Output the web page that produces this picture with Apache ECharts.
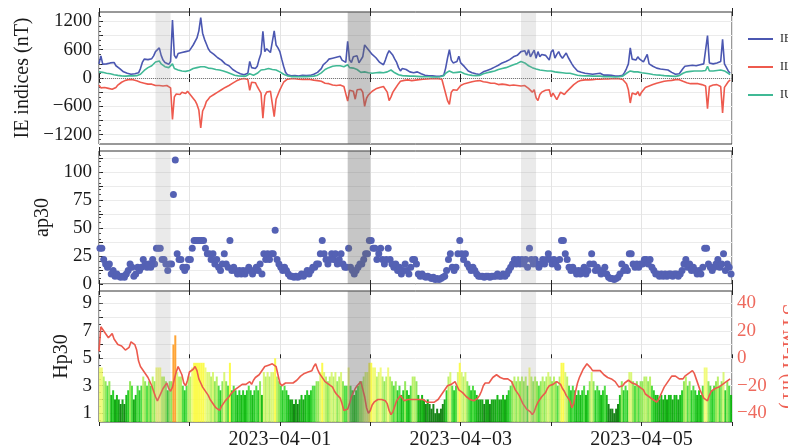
<!DOCTYPE html>
<html>
<head>
<meta charset="utf-8">
<script src="https://cdn.jsdelivr.net/npm/echarts@6/dist/echarts.min.js"></script>
<style>
  html, body { margin: 0; padding: 0; background: #ffffff; }
  #chart { width: 788px; height: 448px; }
</style>
</head>
<body>
<div id="chart"></div>
<script>
// Geomagnetic activity, 2023-03-30 00:00 UT to 2023-04-06 00:00 UT, 30-minute samples.
const START_UTC = Date.UTC(2023, 2, 30);
const STEP_HOURS = 0.5;
const SPAN_HOURS = 168;

// IMAGE electrojet indices (nT)
const ieIndex = [
  300,470,290,280,300,290,320,340,330,260,230,200,160,130,110,100,90,80,100,90,80,110,200,330,
  400,420,390,430,410,470,560,600,640,480,380,330,300,290,350,1230,480,420,520,500,540,520,560,550,
  580,640,700,720,850,1000,1280,950,820,720,620,560,520,500,470,430,450,380,350,300,280,260,220,180,
  150,130,100,90,80,70,90,100,350,220,180,200,250,400,520,990,560,620,600,540,500,1000,700,640,
  560,400,250,120,70,50,45,40,50,45,40,50,55,45,50,60,55,70,80,100,120,110,200,280,
  320,350,400,440,420,380,440,480,460,380,340,330,780,380,330,450,480,470,320,300,450,700,660,600,
  560,500,480,430,400,330,300,280,380,500,580,620,480,400,330,220,150,200,220,180,150,130,120,110,
  120,130,110,90,70,60,50,45,40,45,40,35,40,35,45,60,210,420,600,380,320,300,350,460,
  320,280,240,200,150,120,110,100,90,80,75,90,130,150,160,170,190,220,230,250,270,290,320,330,
  350,370,390,420,450,470,480,500,560,520,580,480,600,450,520,590,420,560,450,500,520,480,510,380,
  550,600,420,500,560,470,420,460,530,440,420,300,240,200,150,130,120,110,100,120,90,110,80,100,
  90,70,100,80,60,70,60,50,55,45,40,50,40,45,60,120,200,300,640,400,420,380,450,400,
  360,340,380,500,300,280,250,230,210,200,190,200,180,190,170,150,120,100,80,70,90,120,200,250,
  280,260,300,270,280,260,270,280,290,300,320,900,320,280,300,290,320,340,350,820,300,280,150,100
];
const ilIndex = [
  -150,-210,-180,-200,-190,-220,-250,-240,-270,-200,-150,-120,-90,-70,-50,-40,-30,-20,-35,-40,-60,-80,-90,-100,
  -110,-120,-130,-140,-130,-150,-160,-170,-160,-150,-170,-180,-160,-200,-210,-880,-400,-340,-330,-350,-300,-290,-330,-280,
  -320,-380,-420,-480,-560,-680,-1060,-700,-620,-500,-450,-400,-360,-350,-320,-300,-280,-250,-230,-200,-180,-160,-140,-110,
  -90,-60,-40,-25,-15,-10,-20,-30,-260,-90,-80,-100,-180,-250,-320,-850,-380,-300,-330,-280,-300,-820,-450,-350,
  -250,-170,-90,-50,-25,-20,-15,-20,-15,-20,-25,-20,-30,-25,-30,-35,-30,-40,-45,-50,-55,-50,-70,-90,
  -110,-130,-120,-140,-150,-130,-160,-170,-150,-160,-180,-170,-490,-260,-220,-280,-450,-250,-220,-240,-300,-600,-430,-360,
  -320,-280,-250,-230,-210,-200,-190,-180,-220,-300,-480,-400,-300,-240,-200,-120,-70,-60,-50,-45,-40,-50,-55,-50,
  -45,-40,-35,-30,-25,-20,-20,-15,-15,-10,-15,-10,-15,-20,-25,-40,-330,-480,-560,-300,-250,-210,-260,-220,
  -160,-140,-120,-110,-100,-90,-80,-70,-65,-60,-55,-70,-80,-85,-90,-100,-110,-120,-110,-130,-140,-120,-130,-150,
  -140,-150,-160,-140,-150,-170,-160,-150,-170,-180,-160,-200,-220,-260,-300,-250,-420,-480,-350,-300,-280,-260,-300,-250,
  -400,-320,-280,-460,-420,-300,-280,-350,-300,-260,-220,-180,-140,-110,-80,-60,-50,-45,-40,-35,-40,-30,-35,-30,
  -25,-30,-25,-20,-20,-15,-20,-15,-15,-20,-15,-10,-15,-20,-30,-60,-120,-250,-530,-320,-300,-350,-290,-380,
  -300,-260,-200,-230,-170,-150,-140,-120,-110,-100,-90,-80,-70,-75,-60,-55,-50,-40,-35,-30,-35,-40,-70,-90,
  -100,-110,-120,-110,-120,-130,-120,-130,-140,-150,-170,-650,-180,-140,-150,-130,-140,-160,-180,-740,-200,-160,-80,-40
];
const iuIndex = [
  130,150,120,110,100,95,90,85,70,60,55,50,45,45,40,40,45,40,45,50,50,60,80,110,
  160,200,220,240,260,300,340,370,360,300,260,240,230,220,230,300,200,180,170,160,150,140,140,150,
  160,180,200,210,220,230,240,250,240,220,210,200,200,190,180,180,170,160,150,140,120,100,90,70,
  60,50,45,40,40,35,40,45,90,70,60,80,100,140,170,200,180,190,200,190,180,200,170,150,
  130,110,80,60,45,35,30,25,30,25,25,30,30,25,30,30,35,35,40,50,60,70,110,150,
  180,200,220,240,250,250,260,270,260,250,240,230,280,220,200,210,200,180,140,120,110,130,120,110,
  100,100,110,110,120,120,110,110,120,130,170,170,130,110,90,70,50,50,45,45,40,40,45,40,
  40,35,35,30,30,25,25,25,20,20,20,20,20,25,30,50,100,140,150,120,110,100,120,140,
  130,110,90,80,70,60,55,50,50,50,55,70,90,100,110,120,130,140,150,170,180,190,200,210,
  220,240,250,270,280,300,310,330,350,340,320,290,260,240,220,200,190,180,170,160,160,150,150,140,
  150,140,130,130,120,120,110,110,100,100,100,90,80,70,60,55,50,50,45,50,45,40,40,40,
  40,35,40,35,30,30,30,25,25,25,20,20,25,25,40,70,100,120,150,130,130,120,130,120,
  110,100,100,110,90,80,75,70,65,60,60,55,50,50,45,45,40,35,35,40,50,70,100,120,
  130,140,140,150,150,140,150,150,150,160,160,250,150,140,150,150,160,170,170,200,150,130,100,70
];

// ap30 index
const ap30 = [
  32,32,22,18,15,18,9,12,7,9,7,6,7,6,9,12,18,15,7,9,15,12,15,22,
  18,15,18,15,22,18,32,32,32,22,22,18,12,18,18,80,111,27,22,22,15,12,15,22,
  22,32,39,39,39,39,39,39,32,27,27,22,27,18,22,15,12,18,27,18,15,39,12,15,
  12,9,12,9,12,9,12,15,12,9,12,15,12,18,9,27,22,27,22,27,27,48,22,18,
  15,12,15,12,9,7,7,6,7,6,7,9,7,9,12,9,12,15,15,18,18,27,39,27,
  22,18,22,27,22,27,18,22,27,18,15,15,32,15,12,9,12,15,18,18,22,27,27,39,
  39,32,32,22,27,32,22,18,22,32,22,18,15,18,12,15,9,12,18,12,9,15,22,22,
  18,9,7,9,7,6,7,6,5,6,4,5,4,5,6,7,12,22,27,15,12,15,27,39,
  27,22,27,18,15,12,15,12,9,7,7,7,6,7,7,6,7,7,7,9,7,7,9,7,
  9,12,15,18,22,18,22,18,22,18,22,15,32,22,18,22,18,15,18,22,18,22,27,22,
  18,22,18,15,22,39,39,27,22,15,12,15,12,9,12,9,12,15,9,12,18,27,18,12,
  15,12,9,12,15,9,6,5,5,4,5,6,9,18,12,15,12,27,27,18,15,18,15,18,
  18,22,22,18,22,15,12,9,9,7,9,7,9,7,9,9,7,9,9,7,9,12,18,22,
  15,18,12,15,12,9,12,9,15,32,32,18,15,12,15,18,22,15,18,27,12,18,15,9
];

// Hp30 index
const hp30 = [
  4.33,4.33,3.67,3.33,3,3.33,2.33,2.67,2,2.33,2,1.67,2,1.67,2.33,2.67,3.33,3,2,2.33,3,2.67,3,3.67,
  3.33,3,3.33,3,3.67,3.33,4.33,4.33,4.33,3.67,3.67,3.33,2.67,3.33,3.33,6,6.67,4,3.67,3.67,3,2.67,3,3.67,
  3.67,4.33,4.67,4.67,4.67,4.67,4.67,4.67,4.33,4,4,3.67,4,3.33,3.67,3,2.67,3.33,4,3.33,3,4.67,2.67,3,
  2.67,2.33,2.67,2.33,2.67,2.33,2.67,3,2.67,2.33,2.67,3,2.67,3.33,2.33,4,3.67,4,3.67,4,4,5,3.67,3.33,
  3,2.67,3,2.67,2.33,2,2,1.67,2,1.67,2,2.33,2,2.33,2.67,2.33,2.67,3,3,3.33,3.33,4,4.67,4,
  3.67,3.33,3.67,4,3.67,4,3.33,3.67,4,3.33,3,3,4.33,3,2.67,2.33,2.67,3,3.33,3.33,3.67,4,4,4.67,
  4.67,4.33,4.33,3.67,4,4.33,3.67,3.33,3.67,4.33,3.67,3.33,3,3.33,2.67,3,2.33,2.67,3.33,2.67,2.33,3,3.67,3.67,
  3.33,2.33,2,2.33,2,1.67,2,1.67,1.33,1.67,1,1.33,1,1.33,1.67,2,2.67,3.67,4,3,2.67,3,4,4.67,
  4,3.67,4,3.33,3,2.67,3,2.67,2.33,2,2,2,1.67,2,2,1.67,2,2,2,2.33,2,2,2.33,2,
  2.33,2.67,3,3.33,3.67,3.33,3.67,3.33,3.67,3.33,3.67,3,4.33,3.67,3.33,3.67,3.33,3,3.33,3.67,3.33,3.67,4,3.67,
  3.33,3.67,3.33,3,3.67,4.67,4.67,4,3.67,3,2.67,3,2.67,2.33,2.67,2.33,2.67,3,2.33,2.67,3.33,4,3.33,2.67,
  3,2.67,2.33,2.67,3,2.33,1.67,1.33,1.33,1,1.33,1.67,2.33,3.33,2.67,3,2.67,4,4,3.33,3,3.33,3,3.33,
  3.33,3.67,3.67,3.33,3.67,3,2.67,2.33,2.33,2,2.33,2,2.33,2,2.33,2.33,2,2.33,2.33,2,2.33,2.67,3.33,3.67,
  3,3.33,2.67,3,2.67,2.33,2.67,2.33,3,4.33,4.33,3.33,3,2.67,3,3.33,3.67,3,3.33,4,2.67,3.33,3,2.33
];

// SYM-H index (nT)
const symH = [
  5,23,21,19,17,15,16,18,14,12,10,11,9,8,6,5,8,12,11,10,6,-2,-6,-8,
  -10,-12,-14,-17,-20,-24,-28,-31,-30,-25,-22,-20,-18,-22,-24,-21,-15,-10,-6,-7,-12,-18,-20,-16,
  -10,-9,-8,-6,-9,-15,-18,-21,-23,-25,-27,-30,-32,-34,-36,-37,-38,-35,-33,-31,-30,-28,-26,-25,
  -23,-22,-21,-20,-19,-18,-19,-18,-17,-19,-16,-14,-13,-12,-10,-9,-6,-5,-5,-6,-4,-3,-6,-12,
  -18,-20,-19,-18,-19,-18,-17,-18,-17,-16,-15,-13,-12,-11,-12,-10,-11,-9,-6,-4,-8,-11,-13,-15,
  -17,-18,-19,-20,-21,-24,-26,-27,-29,-33,-38,-39,-37,-33,-28,-25,-22,-20,-19,-17,-18,-28,-36,-40,
  -38,-34,-32,-31,-30,-31,-30,-29,-31,-33,-38,-41,-39,-35,-31,-29,-27,-29,-31,-32,-30,-29,-30,-31,
  -30,-29,-30,-31,-30,-31,-32,-31,-32,-33,-32,-31,-30,-28,-26,-24,-22,-20,-21,-19,-18,-17,-20,-23,
  -24,-25,-26,-28,-29,-30,-30,-31,-30,-29,-27,-24,-20,-18,-17,-18,-16,-14,-13,-12,-13,-14,-13,-15,
  -14,-15,-14,-17,-20,-23,-25,-27,-30,-33,-35,-37,-38,-39,-41,-39,-35,-32,-30,-28,-27,-25,-22,-20,
  -20,-19,-18,-17,-18,-19,-22,-24,-27,-29,-31,-36,-33,-24,-18,-14,-11,-8,-6,-4,-3,-7,-9,-10,
  -9,-10,-9,-10,-12,-13,-14,-13,-15,-16,-17,-19,-21,-22,-20,-18,-17,-16,-17,-18,-17,-19,-20,-21,
  -22,-23,-26,-27,-28,-29,-30,-31,-32,-30,-27,-24,-21,-19,-17,-15,-13,-12,-13,-14,-15,-16,-15,-13,
  -12,-11,-10,-9,-11,-15,-19,-23,-26,-29,-30,-31,-27,-24,-23,-22,-22,-21,-20,-19,-18,-17,-16,-15
];

// Highlighted intervals, hours from the start: [from, to, shade]
const shadedSpans = [[15, 19, 'light'], [66, 72, 'dark'], [112, 116, 'light']];

// Tick labels
const ieTicks = [-1200, -600, 0, 600, 1200];
const apTicks = [0, 25, 50, 75, 100];
const hpTicks = [1, 3, 5, 7, 9];
const symTicks = [-40, -20, 0, 20, 40];

const SERIF = '"Liberation Serif", "Times New Roman", serif';
const INK = '#1a1a1a';
const MINUS = '\u2212';
const fmtMinus = v => String(v).replace('-', MINUS);

const hourOf = i => i * STEP_HOURS;
const toPairs = arr => arr.map((v, i) => [hourOf(i), v]);
const range = (a, b, step) => { const out = []; for (let v = a; v <= b + 1e-9; v += step) out.push(+v.toFixed(4)); return out; };

function dateLabel(h) {
  if (h <= 0 || h >= SPAN_HOURS || h % 48 !== 0) return '';
  const d = new Date(START_UTC + h * 3600000);
  const mm = String(d.getUTCMonth() + 1).padStart(2, '0');
  const dd = String(d.getUTCDate()).padStart(2, '0');
  return d.getUTCFullYear() + MINUS + mm + MINUS + dd;
}

// Colour scale for Hp30 bars
function hpColor(v) {
  if (v >= 5.67) return '#ff9a1f';
  if (v >= 4.5) return '#fbfb3c';
  if (v >= 4.17) return '#f0fb6e';
  if (v >= 3.83) return '#d6f66c';
  if (v >= 3.5) return '#b4ef5c';
  if (v >= 3.17) return '#86e64a';
  if (v >= 2.83) return '#3fd933';
  if (v >= 2.5) return '#14c814';
  if (v >= 2.17) return '#00b400';
  if (v >= 1.83) return '#009c00';
  return '#007800';
}

const grids = [
  { left: 99, right: 56, top: 12, height: 132 },
  { left: 99, right: 56, top: 151, height: 133 },
  { left: 99, right: 56, top: 291, height: 131 }
].map(g => Object.assign(g, {
  show: true, borderColor: '#333', borderWidth: 1, containLabel: false, outerBoundsMode: 'none'
}));

function xAxisFor(gridIndex, position, inside, opts) {
  opts = opts || {};
  return {
    type: 'value', gridIndex, position, min: 0, max: SPAN_HOURS, interval: 24,
    axisLine: { show: false },
    axisTick: { show: true, inside, length: 4, lineStyle: { color: '#222', width: 1 } },
    axisLabel: opts.labels ? {
      show: true, margin: 8, fontFamily: SERIF, fontSize: 20, color: INK,
      formatter: dateLabel, showMinLabel: true, showMaxLabel: true
    } : { show: false },
    splitLine: opts.split ? { show: true, lineStyle: { color: '#e4e4e4', width: 1 } } : { show: false }
  };
}

const xAxes = [];
for (let g = 0; g < 3; g++) {
  xAxes.push(xAxisFor(g, 'bottom', true, { split: true, labels: false }));
  xAxes.push(xAxisFor(g, 'bottom', false, { labels: g === 2 }));
  xAxes.push(xAxisFor(g, 'top', true));
  xAxes.push(xAxisFor(g, 'top', false));
}

const nameStyle = { fontFamily: SERIF, fontSize: 20, color: INK };
const tickLabel = { fontFamily: SERIF, fontSize: 19, color: INK, margin: 7 };
const gridLine = { show: true, lineStyle: { color: '#ebebeb', width: 1 } };

function minorAxis(gridIndex, min, max, values) {
  return {
    type: 'value', gridIndex, position: 'left', min, max,
    axisLine: { show: false }, axisLabel: { show: false }, splitLine: { show: false },
    axisTick: { show: true, inside: true, length: 2, customValues: values, lineStyle: { color: '#444' } }
  };
}

const yAxes = [
  { // 0: IE indices
    type: 'value', gridIndex: 0, position: 'left', min: -1400, max: 1400,
    name: 'IE indices (nT)', nameLocation: 'middle', nameGap: 66, nameTextStyle: nameStyle,
    axisLine: { show: false },
    axisTick: { show: true, inside: true, length: 4, customValues: range(-1200, 1200, 300), lineStyle: { color: '#222' } },
    axisLabel: Object.assign({ customValues: ieTicks, formatter: fmtMinus }, tickLabel),
    splitLine: gridLine
  },
  { // 1: ap30
    type: 'value', gridIndex: 1, position: 'left', min: 0, max: 119,
    name: 'ap30', nameLocation: 'middle', nameGap: 44, nameTextStyle: nameStyle,
    axisLine: { show: false },
    axisTick: { show: true, inside: true, length: 4, customValues: range(0, 112.5, 12.5), lineStyle: { color: '#222' } },
    axisLabel: Object.assign({ customValues: apTicks }, tickLabel),
    splitLine: gridLine
  },
  { // 2: Hp30
    type: 'value', gridIndex: 2, position: 'left', min: 0.36, max: 9.9,
    name: 'Hp30', nameLocation: 'middle', nameGap: 26, nameTextStyle: nameStyle,
    axisLine: { show: false },
    axisTick: { show: true, inside: true, length: 4, customValues: range(1, 9, 1), lineStyle: { color: '#222' } },
    axisLabel: Object.assign({ customValues: hpTicks }, tickLabel),
    splitLine: gridLine
  },
  { // 3: SYM-H
    type: 'value', gridIndex: 2, position: 'right', min: -46.4, max: 49,
    name: 'SYM-H (nT)', nameLocation: 'middle', nameGap: 46, nameRotate: -90,
    nameTextStyle: Object.assign({}, nameStyle, { color: '#ee5f52', align: 'center', verticalAlign: 'bottom' }),
    axisLine: { show: false },
    axisTick: { show: true, inside: false, length: 4, customValues: symTicks, lineStyle: { color: '#555' } },
    axisLabel: { customValues: symTicks, formatter: fmtMinus, fontFamily: SERIF, fontSize: 19, color: '#ee6a5e', margin: 5 },
    splitLine: { show: false }
  },
  minorAxis(0, -1400, 1400, range(-1300, 1300, 100)),
  minorAxis(1, 0, 119, range(0, 115, 5)),
  minorAxis(2, 0.36, 9.9, range(0.5, 9.5, 0.5))
];

const shadeArea = {
  silent: true,
  z: 10,
  label: { show: false },
  data: shadedSpans.map(([a, b, kind]) => [
    { xAxis: a, itemStyle: { color: kind === 'dark' ? 'rgba(105,105,105,0.38)' : 'rgba(150,150,150,0.2)' } },
    { xAxis: b }
  ])
};

const lineBase = { type: 'line', symbol: 'none', xAxisIndex: 0, yAxisIndex: 0, z: 3 };

const option = {
  animation: false,
  backgroundColor: '#ffffff',
  grid: grids,
  xAxis: xAxes,
  yAxis: yAxes,
  legend: {
    orient: 'vertical', left: 743, top: 28, itemWidth: 25, itemHeight: 2, itemGap: 16,
    icon: 'rect',
    textStyle: { fontFamily: SERIF, fontSize: 12, color: '#222', padding: [0, 0, 0, 2] },
    data: ['IE', 'IL', 'IU']
  },
  series: [
    Object.assign({}, lineBase, {
      name: 'IE', data: toPairs(ieIndex), lineStyle: { color: '#4b57b1', width: 1.6 }, itemStyle: { color: '#4b57b1' },
      markLine: {
        silent: true, symbol: 'none', label: { show: false },
        lineStyle: { color: '#777', type: 'dotted', width: 1 }, data: [{ yAxis: 0 }]
      },
      markArea: shadeArea
    }),
    Object.assign({}, lineBase, {
      name: 'IL', data: toPairs(ilIndex), lineStyle: { color: '#ee5a4e', width: 1.6 }, itemStyle: { color: '#ee5a4e' }
    }),
    Object.assign({}, lineBase, {
      name: 'IU', data: toPairs(iuIndex), lineStyle: { color: '#40b995', width: 1.6 }, itemStyle: { color: '#40b995' }
    }),
    {
      name: 'ap30', type: 'scatter', xAxisIndex: 4, yAxisIndex: 1, symbolSize: 7,
      itemStyle: { color: '#5461b4', opacity: 1 },
      data: ap30.map((v, i) => [hourOf(i) + STEP_HOURS / 2, v]),
      markArea: shadeArea
    },
    {
      name: 'Hp30', type: 'bar', xAxisIndex: 8, yAxisIndex: 2, barWidth: 2, clip: true, z: 2,
      data: hp30.map((v, i) => ({ value: [hourOf(i) + STEP_HOURS / 2, v], itemStyle: { color: hpColor(v), opacity: 0.9 } })),
      markArea: shadeArea
    },
    {
      name: 'SYM-H', type: 'line', symbol: 'none', xAxisIndex: 8, yAxisIndex: 3, z: 4,
      data: toPairs(symH), lineStyle: { color: '#ec5a4d', width: 1.6 }
    }
  ]
};

const chart = echarts.init(document.getElementById('chart'), null, { renderer: 'canvas' });
chart.setOption(option);
</script>
</body>
</html>
